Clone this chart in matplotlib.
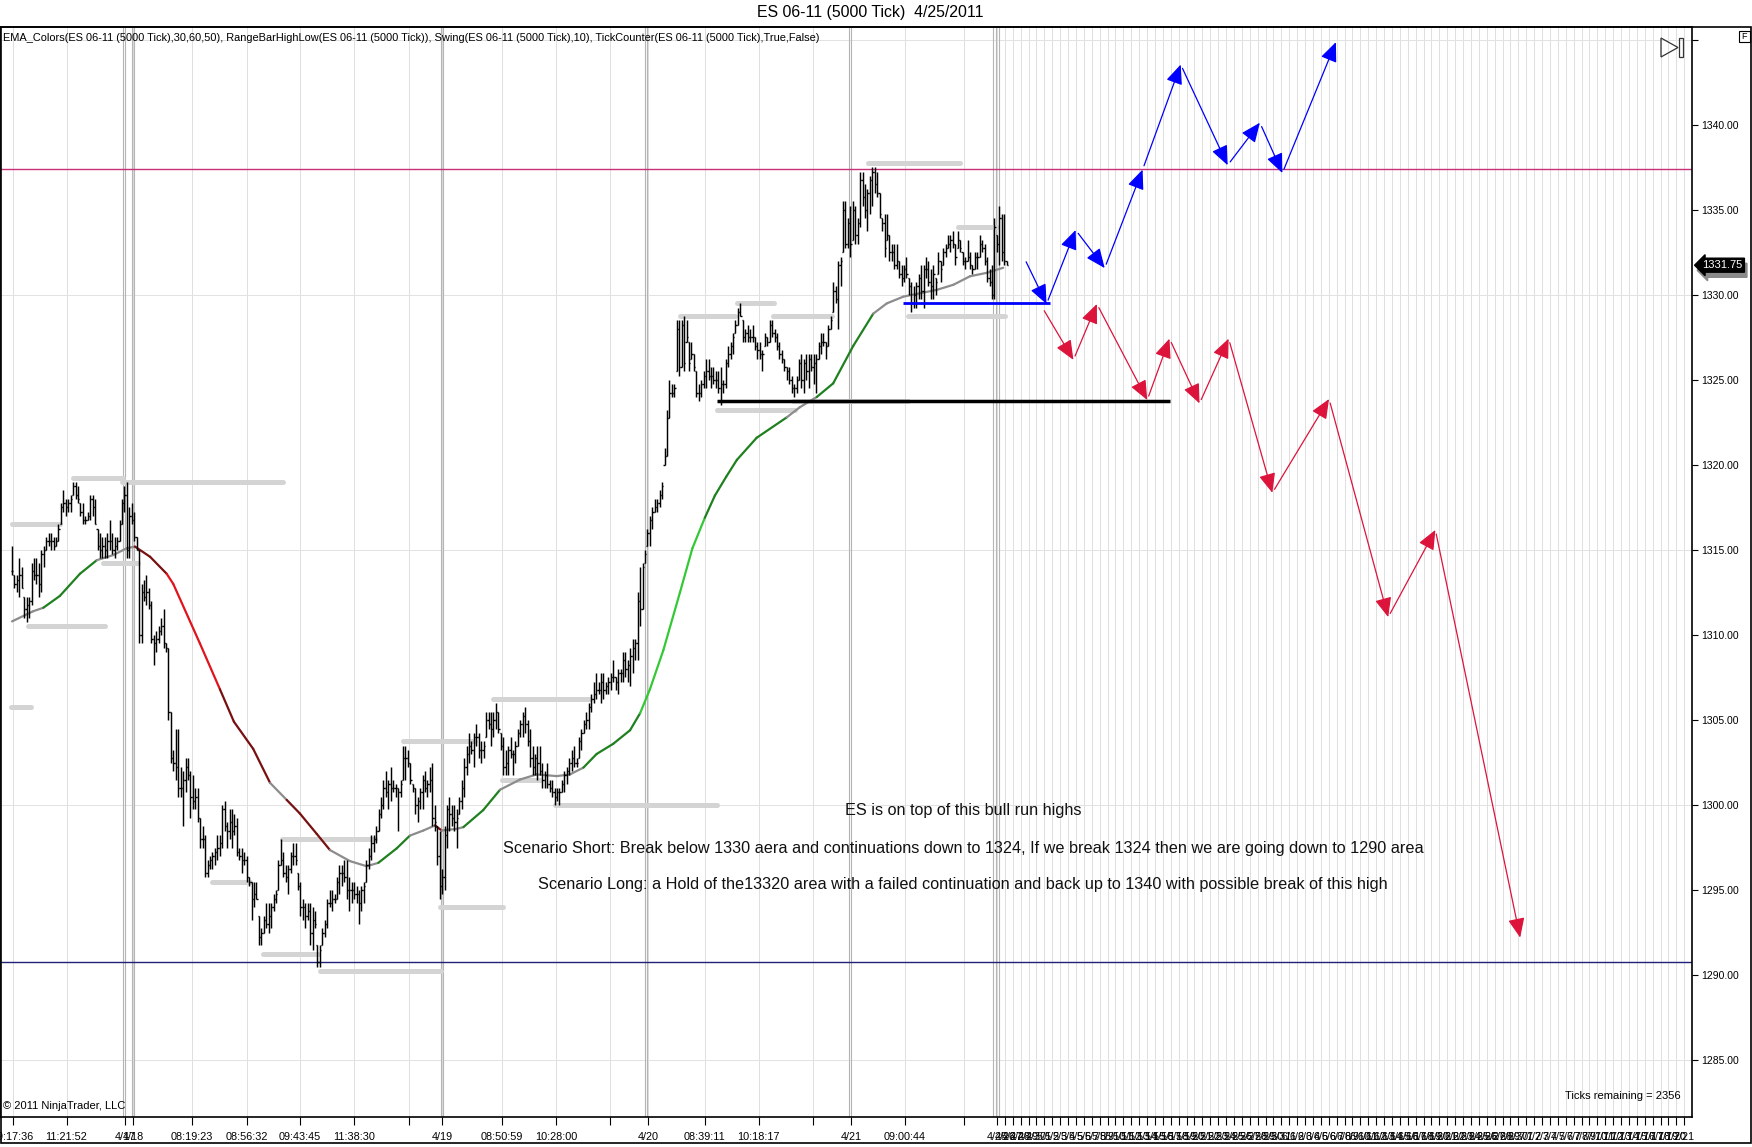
import numpy as np
import pandas as pd
import matplotlib
matplotlib.use("Agg")
import matplotlib.pyplot as plt
from matplotlib.patches import Rectangle, Polygon
from matplotlib.collections import LineCollection

plt.rcParams['font.family'] = ['Liberation Sans', 'DejaVu Sans']

# ---- bar data (ES 06-11, 5000 tick bars) ----
highs = [
    1315.25, 1313.5, 1313.5, 1314.5, 1314.0, 1312.25, 1312.25, 1312.25, 1314.25, 1314.5,
    1314.5, 1314.25, 1315.0, 1315.25, 1315.75, 1316.0, 1316.0, 1315.75, 1315.75, 1316.5, 1317.75,
    1318.5, 1318.0, 1318.0, 1318.25, 1319.0, 1319.0, 1318.75, 1317.75, 1317.75, 1317.0,
    1317.25, 1318.25, 1318.25, 1318.0, 1316.25, 1316.0, 1315.75, 1315.75, 1316.0, 1316.75,
    1316.0, 1315.75, 1315.75, 1316.75, 1318.0, 1318.75, 1319.0, 1317.5, 1317.75, 1317.25,
    1315.75, 1315.0, 1313.0, 1313.25, 1313.5, 1312.75, 1312.0, 1310.0, 1310.25, 1310.5,
    1311.0, 1311.5, 1309.5, 1309.25, 1305.5, 1303.25, 1304.5, 1304.5, 1302.25, 1302.0,
    1302.75, 1302.75, 1302.0, 1301.75, 1301.0, 1301.0, 1299.25, 1298.75, 1298.25, 1296.75,
    1297.0, 1297.25, 1297.5, 1298.25, 1298.25, 1300.0, 1300.25, 1299.0, 1299.75, 1299.75, 1299.5,
    1299.25, 1297.5, 1297.5, 1297.25, 1297.0, 1295.75, 1295.5, 1295.5, 1295.5, 1293.5,
    1292.75, 1293.5, 1294.25, 1294.25, 1294.25, 1294.75, 1295.0, 1296.75, 1298.0, 1297.25, 1296.5,
    1296.5, 1297.25, 1297.75, 1297.75, 1296.0, 1295.5, 1294.5, 1294.25, 1294.25, 1294.25,
    1294.0, 1293.75, 1291.75, 1291.75, 1292.75, 1293.25, 1294.5, 1295.0, 1295.0, 1294.75,
    1295.75, 1296.5, 1296.5, 1296.75, 1296.75, 1295.75, 1295.5, 1295.5, 1295.25, 1295.0, 1295.25,
    1295.5, 1296.75, 1297.5, 1298.25, 1298.25, 1298.75, 1299.75, 1300.5, 1301.5, 1302.0,
    1301.5, 1302.25, 1301.5, 1301.25, 1301.0, 1301.5, 1303.5, 1303.5, 1303.25, 1302.5, 1301.25,
    1301.0, 1300.5, 1301.0, 1301.75, 1302.0, 1301.5, 1302.25, 1302.5, 1300.0, 1298.75,
    1298.5, 1296.25, 1298.75, 1300.0, 1300.5, 1300.0, 1300.0, 1299.75, 1300.5, 1301.5,
    1302.75, 1303.5, 1304.25, 1303.75, 1304.25, 1304.75, 1304.25, 1303.75, 1303.75, 1305.5,
    1305.5, 1305.5, 1305.5, 1306.0, 1305.5, 1304.25, 1304.0, 1303.25, 1303.5, 1304.0,
    1303.25, 1303.75, 1304.5, 1305.0, 1305.5, 1305.75, 1305.0, 1304.5, 1303.5, 1303.0, 1303.5,
    1303.5, 1302.5, 1302.0, 1302.5, 1301.5, 1301.5, 1301.0, 1301.0, 1301.0, 1301.5, 1302.0,
    1302.25, 1302.75, 1303.25, 1303.5, 1302.75, 1304.0, 1304.5, 1305.0, 1305.5, 1306.0,
    1306.5, 1307.25, 1307.75, 1307.25, 1307.75, 1307.75, 1307.25, 1307.5, 1307.75, 1308.5,
    1307.5, 1308.0, 1308.0, 1309.0, 1309.0, 1308.5, 1309.25, 1309.75, 1309.75, 1312.5,
    1314.0, 1314.25, 1315.0, 1316.25, 1317.0, 1317.5, 1318.0, 1318.0, 1318.5, 1319.0,
    1321.0, 1323.25, 1325.0, 1324.75, 1324.75, 1328.5, 1328.5, 1328.5, 1328.75, 1328.5,
    1327.25, 1327.25, 1326.5, 1325.5, 1324.75, 1325.0, 1325.5, 1326.25, 1326.25, 1325.75,
    1325.75, 1325.5, 1325.5, 1325.75, 1325.0, 1326.25, 1327.0, 1327.25, 1327.75, 1328.5,
    1329.25, 1329.5, 1328.5, 1328.0, 1328.25, 1328.0, 1328.25, 1327.5,
    1327.25, 1327.25, 1326.75, 1327.75, 1327.5, 1328.5, 1328.5, 1328.0, 1327.75, 1327.25,
    1326.75, 1326.25, 1325.75, 1325.75, 1325.25, 1324.75, 1325.25, 1326.25, 1326.5, 1326.25,
    1326.5, 1326.5, 1326.5, 1326.5, 1326.5, 1327.25, 1327.75, 1327.75, 1327.25, 1328.25,
    1328.75, 1330.75, 1330.5, 1332.0, 1332.25, 1335.5, 1335.5, 1334.5, 1335.25, 1335.5,
    1335.25, 1334.5, 1337.25, 1337.25, 1336.5, 1336.25, 1337.0, 1337.5, 1337.5, 1337.25,
    1336.0, 1334.5, 1334.75, 1334.75, 1333.5, 1333.0, 1333.0, 1333.0,
    1332.0, 1331.75, 1331.75, 1332.25, 1331.0, 1330.75, 1330.5, 1330.75, 1331.25, 1331.75,
    1331.75, 1332.25, 1332.0, 1331.5, 1331.75, 1331.0, 1332.5, 1332.0,
    1332.75, 1333.0, 1333.5, 1333.5, 1333.75, 1333.0, 1333.75, 1333.25, 1332.5, 1332.25,
    1333.25, 1332.5, 1331.75, 1332.5, 1332.5, 1333.5, 1333.25, 1333.0, 1332.25,
    1331.5, 1331.75, 1334.5, 1333.5, 1335.25, 1334.75, 1334.75, 1332.0,
]
lows = [
    1313.5, 1312.75, 1312.5, 1312.25, 1312.75, 1311.0, 1310.75, 1311.0, 1311.75, 1313.25,
    1313.0, 1312.25, 1312.5, 1314.0, 1315.0, 1315.25, 1315.0, 1315.0, 1315.25, 1315.5, 1316.5,
    1317.25, 1317.0, 1317.25, 1317.25, 1318.25, 1318.0, 1317.75, 1317.0, 1316.5, 1316.5,
    1316.75, 1316.75, 1317.0, 1316.5, 1315.0, 1314.5, 1314.5, 1314.5, 1314.5, 1315.0,
    1314.75, 1314.5, 1315.0, 1315.5, 1316.5, 1317.25, 1314.5, 1314.5, 1316.5, 1315.5,
    1315.0, 1309.5, 1309.5, 1312.0, 1311.75, 1311.5, 1309.5, 1308.25, 1309.0, 1309.5,
    1310.0, 1309.25, 1309.0, 1305.0, 1302.5, 1302.0, 1301.5, 1300.5, 1300.5, 1298.75,
    1300.75, 1301.5, 1299.25, 1299.75, 1299.75, 1299.0, 1297.5, 1297.5, 1295.75, 1295.75,
    1296.25, 1296.25, 1296.5, 1296.75, 1297.0, 1297.5, 1298.5, 1297.5, 1298.0, 1297.5, 1298.25,
    1297.0, 1296.75, 1296.0, 1296.5, 1295.5, 1295.25, 1293.25, 1294.0, 1294.5, 1291.75,
    1291.75, 1292.5, 1292.75, 1292.5, 1292.75, 1293.75, 1294.25, 1295.0, 1296.5, 1295.75, 1295.5,
    1294.75, 1296.0, 1296.5, 1296.5, 1295.0, 1293.5, 1293.25, 1292.75, 1293.25, 1291.75,
    1291.5, 1292.75, 1290.5, 1290.5, 1291.75, 1292.25, 1292.75, 1294.0, 1293.75, 1294.25,
    1294.5, 1294.75, 1295.25, 1295.5, 1294.5, 1293.75, 1294.25, 1294.5, 1294.25, 1293.0, 1293.75,
    1294.25, 1295.5, 1296.25, 1296.75, 1297.25, 1297.75, 1298.5, 1299.25, 1299.75, 1300.5,
    1299.75, 1300.25, 1300.75, 1300.5, 1298.5, 1300.5, 1301.5, 1301.5, 1302.25, 1301.25, 1300.75,
    1299.5, 1299.0, 1299.75, 1299.75, 1300.75, 1300.5, 1300.75, 1298.75, 1298.5, 1296.5,
    1294.5, 1294.75, 1295.0, 1297.5, 1298.5, 1298.75, 1298.5, 1297.5, 1299.5, 1299.75,
    1300.5, 1301.75, 1302.5, 1303.0, 1302.25, 1303.5, 1302.75, 1302.5, 1302.75, 1304.0,
    1304.5, 1303.5, 1304.0, 1304.5, 1304.25, 1303.25, 1301.75, 1301.75, 1301.75, 1302.75,
    1301.75, 1302.5, 1303.5, 1304.0, 1304.0, 1304.25, 1303.5, 1302.25, 1301.75, 1301.75, 1301.5,
    1301.75, 1301.0, 1301.0, 1301.0, 1300.75, 1300.5, 1300.0, 1300.25, 1300.0, 1300.75, 1300.75,
    1301.25, 1301.75, 1302.0, 1302.25, 1302.25, 1302.75, 1303.25, 1304.25, 1304.5, 1304.5,
    1305.5, 1306.0, 1306.25, 1306.5, 1306.0, 1306.25, 1306.5, 1306.5, 1306.75, 1307.25,
    1306.75, 1306.5, 1307.25, 1307.25, 1307.5, 1307.25, 1307.0, 1307.75, 1308.5, 1308.5,
    1310.5, 1311.5, 1314.25, 1315.25, 1315.25, 1316.25, 1317.25, 1317.25, 1317.5, 1318.0,
    1320.0, 1320.5, 1322.75, 1324.0, 1324.0, 1325.5, 1325.25, 1325.75, 1325.5, 1327.25,
    1325.5, 1326.25, 1325.5, 1324.0, 1323.75, 1324.0, 1324.5, 1324.5, 1325.0, 1324.5,
    1324.75, 1324.5, 1324.25, 1323.5, 1324.25, 1324.5, 1325.75, 1326.25, 1326.5, 1327.75,
    1328.25, 1328.75, 1327.25, 1327.25, 1327.25, 1327.25, 1327.25, 1326.75,
    1326.25, 1326.25, 1325.5, 1327.0, 1327.0, 1327.25, 1327.5, 1327.25, 1326.75, 1326.25,
    1326.0, 1325.5, 1325.0, 1324.75, 1324.25, 1324.0, 1324.25, 1325.0, 1324.5, 1324.25,
    1325.0, 1324.5, 1325.5, 1324.75, 1324.25, 1326.25, 1326.5, 1327.0, 1326.25, 1327.0,
    1328.0, 1329.0, 1329.5, 1328.0, 1330.5, 1332.5, 1332.75, 1332.75, 1332.25, 1333.25,
    1333.0, 1333.0, 1334.0, 1335.25, 1334.5, 1333.75, 1334.75, 1335.25, 1336.0, 1335.75,
    1334.5, 1333.75, 1332.25, 1333.25, 1332.0, 1332.0, 1331.5, 1331.5,
    1331.0, 1330.5, 1330.75, 1331.0, 1330.0, 1329.0, 1329.25, 1329.25, 1329.75, 1329.75,
    1329.25, 1331.0, 1330.5, 1329.75, 1329.75, 1330.0, 1331.25, 1330.75,
    1331.75, 1332.25, 1332.75, 1332.5, 1332.75, 1331.75, 1332.75, 1332.5, 1331.75, 1331.5,
    1332.0, 1331.5, 1331.25, 1331.5, 1331.5, 1332.25, 1332.5, 1331.75, 1330.75,
    1330.5, 1329.75, 1329.75, 1332.5, 1331.75, 1332.0, 1331.75, 1331.75,
]
closes = [
    1313.75, 1313.0, 1313.25, 1313.5, 1312.75, 1311.5, 1311.75, 1312.0, 1313.75, 1313.5,
    1313.5, 1313.0, 1314.75, 1315.0, 1315.5, 1315.5, 1315.5, 1315.25, 1315.5, 1316.25, 1317.5,
    1317.75, 1317.5, 1317.75, 1318.0, 1318.75, 1318.25, 1318.0, 1317.25, 1316.75, 1316.75,
    1317.0, 1318.0, 1317.5, 1316.5, 1315.25, 1315.0, 1315.25, 1315.0, 1315.5, 1315.5,
    1315.0, 1315.25, 1315.5, 1316.5, 1317.75, 1318.25, 1315.0, 1317.0, 1316.75, 1315.75,
    1315.0, 1310.0, 1312.5, 1312.25, 1312.5, 1311.75, 1309.75, 1309.5, 1309.75, 1310.25,
    1310.5, 1309.5, 1309.25, 1305.5, 1302.75, 1302.5, 1302.25, 1301.0, 1301.0, 1301.5,
    1302.25, 1301.75, 1300.5, 1300.25, 1300.5, 1299.25, 1298.0, 1298.0, 1296.0, 1296.5,
    1296.75, 1297.0, 1297.25, 1297.5, 1297.75, 1299.75, 1298.75, 1298.5, 1299.0, 1298.5, 1298.75,
    1297.25, 1297.0, 1296.75, 1296.75, 1295.75, 1295.5, 1294.5, 1294.75, 1294.5, 1292.25,
    1292.5, 1293.25, 1293.0, 1293.5, 1294.0, 1294.5, 1294.75, 1296.5, 1296.75, 1296.0, 1295.75,
    1296.25, 1297.0, 1297.0, 1296.75, 1295.25, 1294.0, 1294.0, 1293.5, 1293.75, 1292.5,
    1293.25, 1293.0, 1290.75, 1291.5, 1292.5, 1293.0, 1294.25, 1294.25, 1294.5, 1294.5,
    1295.5, 1296.0, 1296.0, 1295.75, 1295.0, 1295.0, 1295.0, 1294.75, 1294.75, 1294.25, 1295.0,
    1295.25, 1296.5, 1297.0, 1297.75, 1298.0, 1298.5, 1299.5, 1300.0, 1301.0, 1300.75,
    1301.25, 1301.0, 1301.0, 1301.0, 1300.75, 1301.25, 1302.75, 1302.75, 1302.5, 1301.5, 1301.0,
    1300.0, 1300.25, 1300.75, 1301.5, 1301.0, 1301.25, 1301.5, 1299.25, 1299.0, 1297.0,
    1295.25, 1295.75, 1298.25, 1299.75, 1299.5, 1299.25, 1299.0, 1299.25, 1300.25, 1301.0,
    1302.25, 1303.0, 1303.5, 1303.25, 1304.0, 1304.0, 1303.25, 1303.25, 1303.5, 1305.0,
    1304.75, 1304.5, 1305.0, 1305.5, 1304.5, 1303.5, 1302.25, 1302.5, 1303.25, 1303.0,
    1303.0, 1303.5, 1304.25, 1304.75, 1305.25, 1304.75, 1303.75, 1302.75, 1302.25, 1302.75, 1302.5,
    1302.0, 1301.5, 1301.75, 1301.25, 1301.0, 1300.75, 1300.5, 1300.75, 1300.75, 1301.25, 1301.75,
    1302.0, 1302.5, 1302.75, 1302.5, 1302.5, 1303.75, 1304.25, 1304.75, 1305.0, 1305.75,
    1306.25, 1306.5, 1306.75, 1306.75, 1307.25, 1306.75, 1307.0, 1307.25, 1307.5, 1307.5,
    1307.25, 1307.75, 1307.75, 1308.5, 1308.0, 1308.25, 1308.75, 1309.25, 1309.5, 1312.0,
    1311.5, 1314.0, 1314.75, 1316.0, 1316.75, 1317.25, 1317.5, 1317.75, 1318.25, 1318.75,
    1320.5, 1322.75, 1324.25, 1324.25, 1324.5, 1328.0, 1325.75, 1328.25, 1326.0, 1327.5,
    1326.0, 1326.5, 1325.75, 1324.25, 1324.25, 1324.75, 1325.25, 1325.5, 1325.25, 1325.25,
    1325.0, 1325.0, 1324.5, 1324.75, 1324.75, 1326.0, 1326.5, 1327.0, 1327.5, 1328.25,
    1329.0, 1328.75, 1327.5, 1327.75, 1327.5, 1327.5, 1327.5, 1327.0,
    1326.75, 1326.5, 1326.5, 1327.5, 1327.25, 1328.25, 1327.75, 1327.5, 1327.0, 1326.5,
    1326.25, 1325.75, 1325.5, 1325.0, 1324.5, 1324.5, 1325.0, 1326.0, 1325.0, 1326.0,
    1325.5, 1326.25, 1325.75, 1326.0, 1326.25, 1327.0, 1327.25, 1327.25, 1327.0, 1328.0,
    1328.5, 1330.25, 1329.75, 1331.75, 1332.0, 1335.0, 1333.0, 1334.25, 1333.0, 1335.0,
    1333.5, 1334.25, 1336.75, 1335.75, 1335.0, 1336.0, 1336.75, 1337.25, 1336.5, 1336.0,
    1334.75, 1334.25, 1332.75, 1333.5, 1332.5, 1332.5, 1331.75, 1332.0,
    1331.25, 1331.0, 1331.5, 1331.25, 1330.5, 1329.5, 1330.0, 1330.5, 1331.0, 1330.25,
    1331.5, 1331.5, 1330.75, 1330.5, 1331.25, 1330.75, 1332.0, 1331.5,
    1332.5, 1332.75, 1333.0, 1333.25, 1333.0, 1332.25, 1333.25, 1332.75, 1332.0, 1332.0,
    1332.25, 1331.75, 1331.5, 1332.25, 1332.25, 1333.0, 1332.75, 1332.0, 1331.0,
    1330.75, 1330.0, 1334.0, 1333.0, 1334.5, 1332.5, 1332.0, 1331.75,
]
last_price = 1331.75

# EMA_Colors line: sample points (bar, value) and colour state of each leg
ema_bar = [0, 8.7, 12.8, 19.6, 27.8, 34.7, 41.4, 46.9, 50.3, 56.5, 63.3, 66.0, 76.9, 85.1,
           90.8, 98.7, 105.6, 112.4, 117.8, 124.7, 130.1, 138.3, 145.1, 149.9, 157.4, 162.8,
           168.3, 173.1, 175.8, 182.0, 184.7, 192.8, 199.7, 207.9, 214.7, 222.9, 228.3, 233.8,
           239.2, 246.0, 252.9, 257.0, 261.0, 266.5, 273.3, 278.4, 283.5, 287.6, 292.2, 296.6,
           304.7, 317.0, 322.4, 329.3, 336.0, 344.2, 352.4, 357.9, 364.7, 371.5, 378.4, 385.2,
           392.0, 398.8, 405.6]
ema_val = [1310.8, 1311.4, 1311.6, 1312.3, 1313.6, 1314.4, 1314.7, 1315.1, 1315.2, 1314.6,
           1313.6, 1313.0, 1309.5, 1306.8, 1304.9, 1303.3, 1301.3, 1300.3, 1299.5, 1298.3,
           1297.35, 1296.7, 1296.4, 1296.6, 1297.45, 1298.2, 1298.5, 1298.8, 1298.5, 1298.6,
           1298.7, 1299.7, 1300.9, 1301.5, 1301.8, 1301.7, 1301.8, 1302.2, 1303.0, 1303.6,
           1304.4, 1305.4, 1306.8, 1309.1, 1312.5, 1315.1, 1316.9, 1318.2, 1319.3, 1320.3,
           1321.6, 1322.8, 1323.4, 1324.0, 1324.8, 1327.0, 1328.9, 1329.5, 1329.9, 1330.1,
           1330.3, 1330.6, 1331.1, 1331.3, 1331.6]
ema_state = "nngggnnnRRrrrRRRnRRRnnnggnnRnnggnnnnnggggGGGGGgggggnnggg" + "nnnnnnnn"

# RangeBarHighLow levels: start bar, end bar, price
rb_start = [0, 6.5, 25.0, 45.0, 37.2, -0.4, 160.0, 81.8, 102.7, 110.5, 126.0, 175.1, 196.8,
            200.5, 222.2, 273.3, 296.6, 311.4, 288.5, 319.6, 350.2, 387.1, 366.6]
rb_end = [19.6, 38.1, 45.4, 110.9, 51.6, 7.8, 189.4, 97.4, 125.2, 148.5, 175.5, 200.9, 236.5,
          216.0, 288.5, 295.8, 311.8, 335.5, 320.4, 366.6, 387.9, 403.0, 406.3]
rb_price = [1316.5, 1310.5, 1319.25, 1319.0, 1314.25, 1305.75, 1303.75, 1295.5, 1291.25, 1298.0,
            1290.25, 1294.0, 1306.25, 1301.5, 1300.0, 1328.75, 1329.5, 1328.75, 1323.25, 1323.75,
            1337.75, 1334.0, 1328.75]

# drawn objects
high_line = 1337.4
low_line = 1290.75
black_level = (288.3, 473.8, 1323.75)
blue_level = (364.7, 424.7, 1329.5)
long_bar = [414.2, 423.3, 435.2, 447.1, 462.6, 478.2, 497.4, 510.6, 519.8, 541.7]
long_px = [1332.17, 1329.47, 1333.82, 1331.58, 1337.37, 1343.55, 1337.63, 1340.13, 1337.17, 1344.87]
short_bar = [421.5, 434.3, 443.9, 464.5, 473.6, 485.9, 497.8, 515.7, 538.9, 563.1, 582.4, 617.1]
short_px = [1329.28, 1326.18, 1329.47, 1323.82, 1327.43, 1323.62, 1327.43, 1318.36, 1323.88,
            1311.05, 1316.18, 1292.2]

notes = ["ES is on top of this bull run highs",
         "Scenario Short: Break below 1330 aera and continuations down to 1324, If we break 1324 then we are going down to 1290 area",
         "Scenario Long: a Hold of the13320 area with a failed continuation and back up to 1340 with possible break of this high"]
note_px = [1299.65, 1297.45, 1295.3]

# x axis labels
time_ticks = [0.25, 22.3, 46.2, 49.5, 73.6, 96.2, 117.8, 139.9, 162.4, 175.9, 200.5, 222.6,
              244.7, 260.2, 283.5, 305.6, 327.7, 343.3, 365.4, 389.5]
time_labels = ["09:17:36", "11:21:52", "4/17", "4/18", "08:19:23", "08:56:32", "09:43:45",
               "11:38:30", "", "4/19", "08:50:59", "10:28:00", "", "4/20", "08:39:11",
               "10:18:17", "", "4/21", "09:00:44", ""]
future_labels = [f"{d.month}/{d.day}" for d in pd.date_range("2011-04-25", periods=88)]
session_lines = [45.5, 46.2, 49.2, 49.9, 175.4, 176.2, 259.0, 259.7, 342.3, 343.2, 401.5, 402.6, 404.0]

# ---- figure ----
W, H = 1752.0, 1147.0
fig = plt.figure(figsize=(W / 100, H / 100), dpi=100)
ax = fig.add_axes([0, (H - 1117) / H, 1692 / W, (1117 - 27) / H])

n = len(highs)
x = np.arange(n)
px = 994.7 / 407          # pixels per bar
ax.set_xlim(-12 / px, (1692 - 12) / px)
ax.set_ylim(1281.65, 1345.76)

future_ticks = 403.0 + np.arange(len(future_labels)) * 7.9 / px

for p in list(time_ticks) + list(future_ticks):
    ax.axvline(p, color='#dedede', lw=0.7, zorder=0)
for p in session_lines:
    ax.axvline(p, color='#b4b4b4', lw=0.8, zorder=0.5)
for yv in [1285, 1300, 1315, 1330, 1345]:
    ax.axhline(yv, color='#e2e2e2', lw=0.7, zorder=0)

ax.axhline(high_line, color='#c8307a', lw=1.0, zorder=1)
ax.axhline(low_line, color='#20207a', lw=1.0, zorder=1)

ax.hlines(rb_price, rb_start, rb_end, color='#d4d4d4', lw=3.6, capstyle='round', zorder=2)

# EMA coloured line
ema_colors = {'n': '#8c8c8c', 'g': '#1f801f', 'G': '#35c835', 'r': '#e0141c', 'R': '#781010'}
segs = [[(ema_bar[k], ema_val[k]), (ema_bar[k + 1], ema_val[k + 1])] for k in range(len(ema_bar) - 1)]
cols = [ema_colors[ema_state[k]] for k in range(len(segs))]
ax.add_collection(LineCollection(segs, colors=cols, linewidths=1.6, zorder=3, capstyle='round'))

# OHLC bars
hi = np.array(highs)
lo = np.array(lows)
cl = np.array(closes)
op = np.clip(np.r_[cl[0], cl[:-1]], lo, hi)
ax.vlines(x, lo, hi, color='black', lw=1.05, zorder=4)
ax.hlines(op, x - 0.5, x, color='black', lw=1.0, zorder=4)
ax.hlines(cl, x, x + 0.5, color='black', lw=1.0, zorder=4)

ax.hlines(black_level[2], black_level[0], black_level[1], color='black', lw=2.5, zorder=5)
ax.hlines(blue_level[2], blue_level[0], blue_level[1], color='#0000ff', lw=2.0, zorder=5)


def chain(bars, prices, color):
    for k in range(len(bars) - 1):
        ax.annotate('', xy=(bars[k + 1], prices[k + 1]), xytext=(bars[k], prices[k]),
                    arrowprops=dict(arrowstyle='-|>,head_length=0.75,head_width=0.32',
                                    color=color, lw=0.9, shrinkA=3, shrinkB=0,
                                    mutation_scale=16), zorder=6)


chain(long_bar, long_px, '#0000ff')
chain(short_bar, short_px, '#dc143c')

note_x = (963 - 12) / px
for t, yv in zip(notes, note_px):
    ax.text(note_x, yv, t, ha='center', va='center', fontsize=11.7, color='#111111', zorder=7)

# axes styling
for s in ax.spines.values():
    s.set_color('black')
    s.set_linewidth(1.2)
ax.yaxis.tick_right()
yt = [1285, 1290, 1295, 1300, 1305, 1310, 1315, 1320, 1325, 1330, 1335, 1340, 1345]
ax.set_yticks(yt)
ax.set_yticklabels([f"{v:.2f}" if v < 1345 else "" for v in yt])
ax.tick_params(axis='y', direction='out', length=4.5, width=0.8, labelsize=7.5, pad=2)
ax.set_xticks(list(time_ticks) + list(future_ticks))
ax.set_xticklabels(time_labels + future_labels)
ax.tick_params(axis='x', direction='out', length=6, width=0.8, labelsize=7.8, pad=5)

# price marker on the axis
ax.text(1.0075, last_price - 0.3, "1331.75", transform=ax.get_yaxis_transform(), color='#9a9a9a',
        fontsize=8, va='center', ha='left', clip_on=False, zorder=9,
        bbox=dict(boxstyle='larrow,pad=0.18', fc='#8a8a8a', ec='#8a8a8a'))
ax.text(1.006, last_price, "1331.75", transform=ax.get_yaxis_transform(), color='white',
        fontsize=8, va='center', ha='left', clip_on=False, zorder=10,
        bbox=dict(boxstyle='larrow,pad=0.18', fc='black', ec='black'))

# frame and header texts
fig.add_artist(Rectangle((0.5 / W, 4 / H), (W - 1.5) / W, (1143 - 27) / H, transform=fig.transFigure,
                         fill=False, ec='black', lw=1.2))
fig.text(870 / W, 1 - 13 / H, "ES 06-11 (5000 Tick)  4/25/2011", ha='center', va='center', fontsize=11.4)
fig.text(3 / W, 1 - 38 / H,
         "EMA_Colors(ES 06-11 (5000 Tick),30,60,50), RangeBarHighLow(ES 06-11 (5000 Tick)), "
         "Swing(ES 06-11 (5000 Tick),10), TickCounter(ES 06-11 (5000 Tick),True,False)",
         ha='left', va='center', fontsize=7.9)
fig.text(3 / W, 1 - 1106 / H, "\u00a9 2011 NinjaTrader, LLC", ha='left', va='center', fontsize=8)
fig.text(1681 / W, 1 - 1096 / H, "Ticks remaining = 2356", ha='right', va='center', fontsize=8)


def fp(xp, yp):
    return (xp / W, 1 - yp / H)


fig.add_artist(Polygon([fp(1661, 38), fp(1661, 57), fp(1678, 47.5)], closed=True, fill=False,
                       ec='#333333', lw=0.9, transform=fig.transFigure))
fig.add_artist(Rectangle(fp(1679, 57), 3.5 / W, 19 / H, fill=False, ec='#333333', lw=0.9,
                         transform=fig.transFigure))
fig.add_artist(Rectangle(fp(1739, 42), 11 / W, 11 / H, fill=False, ec='black', lw=0.8,
                         transform=fig.transFigure))
fig.text(1744.5 / W, 1 - 36.5 / H, "F", ha='center', va='center', fontsize=6.5)

fig.savefig("out.png", dpi=100)
